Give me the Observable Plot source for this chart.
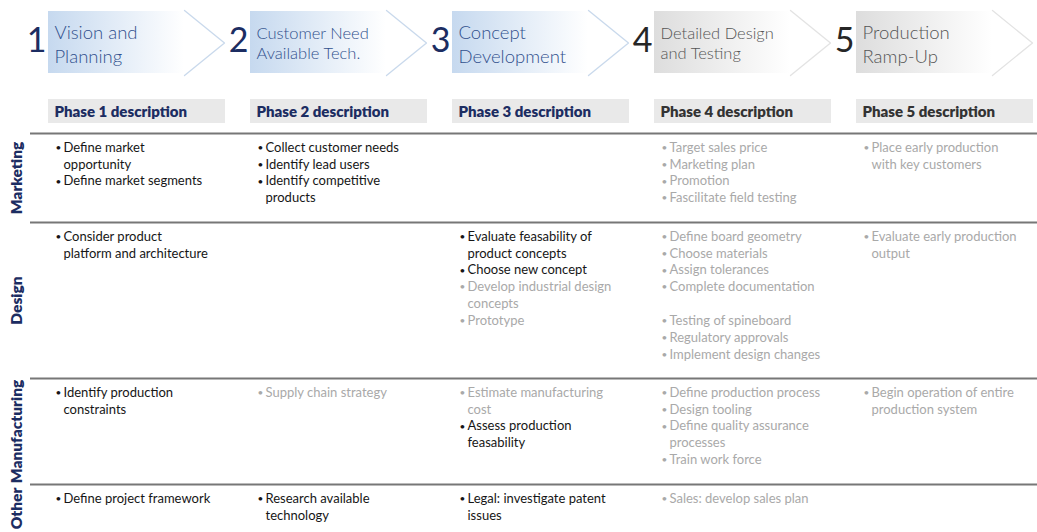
<!DOCTYPE html>
<html>
<head>
<meta charset="utf-8">
<script src="https://cdn.jsdelivr.net/npm/d3@7"></script>
<script src="https://cdn.jsdelivr.net/npm/@observablehq/plot@0.6"></script>
<style>
  html, body { margin: 0; padding: 0; background: #fff; overflow: hidden; }
</style>
</head>
<body>
<div id="chart"></div>
<script>
// ---------------- DATA ----------------
const phaseNumbers = ["1", "2", "3", "4", "5"];
const phaseTitles = [
  ["Vision and", "Planning"],
  ["Customer Need", "Available Tech."],
  ["Concept", "Development"],
  ["Detailed Design", "and Testing"],
  ["Production", "Ramp-Up"]
];
const phaseDescriptions = [
  "Phase 1 description", "Phase 2 description", "Phase 3 description",
  "Phase 4 description", "Phase 5 description"
];
const currentPhase = 3; // phases up to this one are highlighted
const rowLabels = ["Marketing", "Design", "Manufacturing", "Other"];

// per phase: list of items; done = black (completed), otherwise grey (planned); null = blank line
const marketingItems = [
  [{text: "Define market\nopportunity", done: true}, {text: "Define market segments", done: true}],
  [{text: "Collect customer needs", done: true}, {text: "Identify lead users", done: true}, {text: "Identify competitive\nproducts", done: true}],
  [],
  [{text: "Target sales price", done: false}, {text: "Marketing plan", done: false}, {text: "Promotion", done: false}, {text: "Fascilitate field testing", done: false}],
  [{text: "Place early production\nwith key customers", done: false}]
];
const designItems = [
  [{text: "Consider product\nplatform and architecture", done: true}],
  [],
  [{text: "Evaluate feasability of\nproduct concepts", done: true}, {text: "Choose new concept", done: true}, {text: "Develop industrial design\nconcepts", done: false}, {text: "Prototype", done: false}],
  [{text: "Define board geometry", done: false}, {text: "Choose materials", done: false}, {text: "Assign tolerances", done: false}, {text: "Complete documentation", done: false}, null,
   {text: "Testing of spineboard", done: false}, {text: "Regulatory approvals", done: false}, {text: "Implement design changes", done: false}],
  [{text: "Evaluate early production\noutput", done: false}]
];
const manufacturingItems = [
  [{text: "Identify production\nconstraints", done: true}],
  [{text: "Supply chain strategy", done: false}],
  [{text: "Estimate manufacturing\ncost", done: false}, {text: "Assess production\nfeasability", done: true}],
  [{text: "Define production process", done: false}, {text: "Design tooling", done: false}, {text: "Define quality assurance\nprocesses", done: false}, {text: "Train work force", done: false}],
  [{text: "Begin operation of entire\nproduction system", done: false}]
];
const otherItems = [
  [{text: "Define project framework", done: true}],
  [{text: "Research available\ntechnology", done: true}],
  [{text: "Legal: investigate patent\nissues", done: true}],
  [{text: "Sales: develop sales plan", done: false}],
  []
];
const rowItems = [marketingItems, designItems, manufacturingItems, otherItems];

// ---------------- LAYOUT / STYLE ----------------
const W = 1037, H = 532;
const L = {
  origin: 48, phaseW: 202, boxW: 136, chevW: 40, descW: 177,
  boxTop: 11, boxBottom: 73, chevTop: 10, chevBottom: 75,
  numBase: 51, titleBase: [38, 62], titleBaseSmall: [38, 58],
  descTop: 99, descBottom: 123, descBase: 116,
  tableTop: 133, lineH: 16.9, firstLine: 14, rowPadBottom: 24,
  ruleStart: 30, labelX: 17, bulletDx: 7, textDx: 15
};
const C = {
  navy: "#1c2d62", titleBlue: "#31508d", titleGrey: "#555555", numGrey: "#262626",
  descGrey: "#333333", descFill: "#e9e9e9", rule: "#777777",
  done: "#161616", planned: "#a9a9a9", chevBlue: "#c9d9ec", chevGrey: "#e3e3e3"
};
const FONT = "Lato, 'Open Sans', 'DejaVu Sans', sans-serif";
const rel = px => px / L.phaseW;               // relative offset in phase units
const abs = px => (px - L.origin) / L.phaseW;  // absolute pixel -> phase units

const phases = phaseNumbers.map((n, i) => ({
  i, number: n, title: phaseTitles[i], desc: phaseDescriptions[i], active: i < currentPhase
}));
const smallTitle = p => p.title[0].length > 10;

const titleLines = phases.flatMap(p => p.title.map((t, k) => ({
  ...p, text: t, base: (smallTitle(p) ? L.titleBaseSmall : L.titleBase)[k]
})));
const chevronPts = phases.flatMap(p => [
  {i: p.i, active: p.active, x: p.i + rel(L.boxW), y: L.chevTop},
  {i: p.i, active: p.active, x: p.i + rel(L.boxW + L.chevW), y: (L.chevTop + L.chevBottom) / 2},
  {i: p.i, active: p.active, x: p.i + rel(L.boxW), y: L.chevBottom}
]);

// flatten table items into text lines
const itemLines = [], bullets = [], rowBands = [];
let rowTop = L.tableTop;
rowItems.forEach((phaseLists, r) => {
  let maxN = 0;
  phaseLists.forEach((items, p) => {
    let k = 0;
    items.forEach(item => {
      if (item === null) { k++; return; }
      bullets.push({p, r, k, done: item.done, rowTop});
      item.text.split("\n").forEach(t => { itemLines.push({p, r, k, text: t, done: item.done, rowTop}); k++; });
    });
    maxN = Math.max(maxN, k);
  });
  const bottom = Math.round(rowTop + L.firstLine + (maxN - 1) * L.lineH + L.rowPadBottom);
  rowBands.push({label: rowLabels[r], rowTop, bottom: Math.min(bottom, H)});
  rowTop = bottom;
});
const lineY = d => d.rowTop + L.firstLine + d.k * L.lineH;

function gradients() {
  const defs = d3.create("svg:defs");
  [["gradActive", "#c6d9ef"], ["gradFuture", "#dddddd"]].forEach(([id, c]) => {
    const g = defs.append("linearGradient").attr("id", id)
      .attr("x1", 0).attr("x2", 1).attr("y1", 0).attr("y2", 0);
    g.append("stop").attr("offset", 0).attr("stop-color", c);
    g.append("stop").attr("offset", 1).attr("stop-color", "#ffffff");
  });
  return defs.node();
}

const chart = Plot.plot({
  width: W, height: H, margin: 0,
  x: {type: "linear", domain: [0, 5], range: [L.origin, L.origin + 5 * L.phaseW], axis: null},
  y: {type: "linear", domain: [0, H], range: [0, H], axis: null},
  style: {fontFamily: FONT, background: "#fff", overflow: "hidden"},
  marks: [
    gradients,
    // header boxes
    Plot.rect(phases, {
      x1: d => d.i, x2: d => d.i + rel(L.boxW), y1: L.boxTop, y2: L.boxBottom,
      fill: d => d.active ? "url(#gradActive)" : "url(#gradFuture)"
    }),
    // chevrons
    Plot.line(chevronPts, {
      x: "x", y: "y", z: "i", stroke: d => d.active ? C.chevBlue : C.chevGrey, strokeWidth: 1.3
    }),
    // phase numbers
    Plot.text(phases, {
      x: d => d.i, y: L.numBase, text: "number", textAnchor: "end", lineAnchor: "bottom",
      dx: -2, fontSize: 34, fill: d => d.active ? C.navy : C.numGrey
    }),
    // phase titles
    Plot.text(titleLines, {
      x: d => d.i, y: "base", text: "text", textAnchor: "start", lineAnchor: "bottom", dx: 6,
      fontSize: d => smallTitle(d) ? 16.5 : 18.5, fontWeight: 300,
      fill: d => d.active ? C.titleBlue : C.titleGrey
    }),
    // description headers
    Plot.rect(phases, {
      x1: d => d.i, x2: d => d.i + rel(L.descW), y1: L.descTop, y2: L.descBottom, fill: C.descFill
    }),
    Plot.text(phases, {
      x: d => d.i, y: L.descBase, text: "desc", textAnchor: "start", lineAnchor: "bottom", dx: 6,
      fontSize: 15, fontWeight: 800, fill: d => d.active ? C.navy : C.descGrey
    }),
    // row separators
    Plot.ruleY(rowBands, {
      y: "rowTop", x1: abs(L.ruleStart), x2: abs(W), stroke: C.rule, strokeWidth: 2
    }),
    // row labels
    Plot.text(rowBands, {
      x: abs(L.labelX), y: d => (d.rowTop + d.bottom) / 2, text: "label", rotate: -90,
      textAnchor: "middle", lineAnchor: "middle", fontSize: 15.5, fontWeight: 800, fill: C.navy
    }),
    // bullets
    Plot.text(bullets, {
      x: d => d.p, y: lineY, text: () => "•", textAnchor: "start", lineAnchor: "middle",
      dx: L.bulletDx, fontSize: 10, fill: d => d.done ? C.done : C.planned
    }),
    // item text
    Plot.text(itemLines, {
      x: d => d.p, y: lineY, text: "text", textAnchor: "start", lineAnchor: "middle",
      dx: L.textDx, fontSize: 13, fill: d => d.done ? C.done : C.planned
    })
  ]
});
document.getElementById("chart").append(chart);
</script>
</body>
</html>
